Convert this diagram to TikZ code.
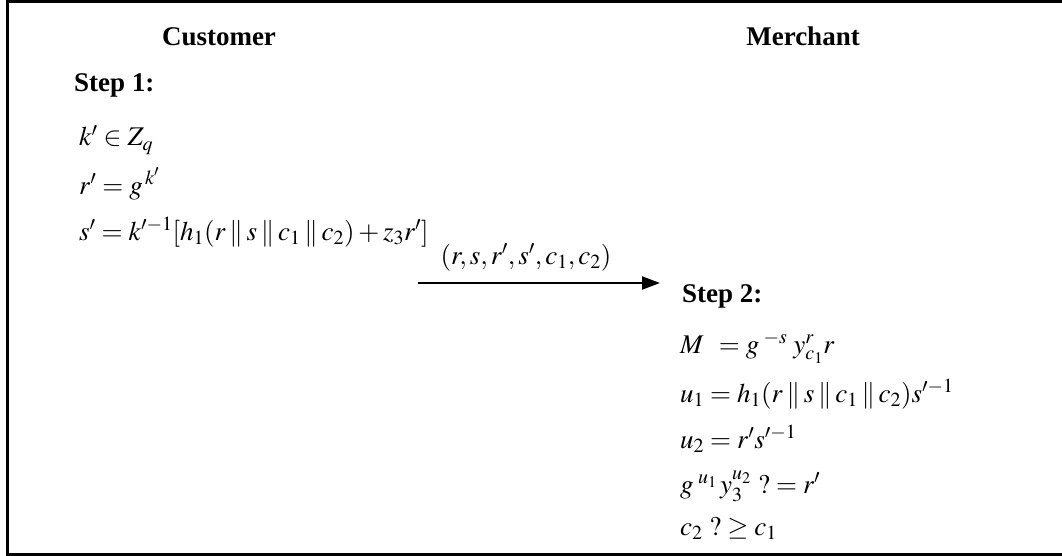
\documentclass[tikz,border=0pt]{standalone}
\usepackage{mathptmx}
\usepackage{fontspec}
\setmainfont{Liberation Serif}
\usetikzlibrary{arrows.meta}
\newcommand{\cat}{\mathbin{\|}}
\tikzset{
  txt/.style={inner sep=0pt, anchor=base west, font=\fontsize{27}{32}\selectfont},
  head/.style={inner sep=0pt, anchor=base, font=\fontsize{27}{32}\selectfont\bfseries},
  stepbox/.style={inner sep=0pt, anchor=base west, font=\fontsize{27}{32}\selectfont\bfseries},
  msg/.style={line width=2pt, -{Triangle[length=18pt,width=13pt]}}
}
\begin{document}
\begin{tikzpicture}[x=1pt,y=-1pt]
\useasboundingbox (0,0) rectangle (1062,556);
\clip (0,0) rectangle (1062,556);
\draw[line width=3pt] (7,1.5) rectangle (1075,554);
\node[head] (cust) at (219,46) {Customer};
\node[head] (merch) at (803,46) {Merchant};
\node[stepbox] (s1) at (74,92) {Step 1:};
\node[txt] (k) at (79,146) {$k' \in Z_q$};
\node[txt] (r) at (79,194) {$r' = g^{\,k'}$};
\node[txt] (s) at (79,240) {$s' = k'^{-1}[h_1(r \cat s \cat c_1 \cat c_2) + z_3 r']$};
\coordinate (a1) at (418,283);
\coordinate (a2) at (660,283);
\draw[msg] (a1) -- (a2);
\node[inner sep=0pt, anchor=base, font=\fontsize{27}{32}\selectfont] (lab) at (526,264) {$(r, s, r', s', c_1, c_2)$};
\node[stepbox] (s2) at (682,302) {Step 2:};
\node[txt] (m) at (680,353) {$M\;\,= g^{\;-s}\; y_{c_1}^{r} r$};
\node[txt] (u1) at (680,402) {$u_1 = h_1(r \cat s \cat c_1 \cat c_2) s'^{-1}$};
\node[txt] (u2) at (680,448) {$u_2 = r's'^{-1}$};
\node[txt] (g) at (680,493) {$g^{\;u_1}\, y_3^{u_2}\ ?= r'$};
\node[txt] (c) at (680,535) {$c_2\ ?\geq c_1$};
\end{tikzpicture}
\end{document}
